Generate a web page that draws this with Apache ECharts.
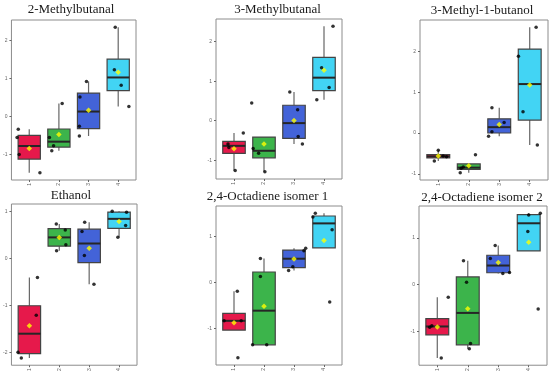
<!DOCTYPE html>
<html><head><meta charset="utf-8">
<script src="https://cdn.jsdelivr.net/npm/echarts@6/dist/echarts.min.js"></script>
<style>html,body{margin:0;padding:0;background:#fff}#c{width:550px;height:374px}</style>
</head><body><div id="c"></div>
<script>
// ---------- data ----------
const groups = ['1', '2', '3', '4'];
const groupColors = ['#e6194B', '#3cb44b', '#4363d8', '#42d4f4'];
const titles = ['2-Methylbutanal', '3-Methylbutanal', '3-Methyl-1-butanol', 'Ethanol', '2,4-Octadiene isomer 1', '2,4-Octadiene isomer 2'];

const p1Values = [[-0.34, -0.56, -1.01, -1.49], [0.34, -0.56, -0.78, -0.91], [0.92, 0.51, -0.26, -0.52], [2.35, 1.23, 0.82, 0.26]];
const p1Jitter = [[-0.37, -0.41, -0.34, 0.36], [0.11, -0.32, -0.18, -0.24], [-0.07, -0.29, -0.31, -0.31], [-0.10, -0.13, 0.10, 0.36]];
const p2Values = [[-0.59, -0.68, -0.31, -1.26], [0.45, -0.70, -0.82, -1.29], [0.73, 0.28, -0.40, -0.59], [2.39, 1.34, 0.84, 0.53]];
const p2Jitter = [[-0.20, -0.17, 0.31, 0.04], [-0.41, -0.36, -0.18, 0.03], [-0.14, 0.12, 0.14, 0.28], [0.30, -0.08, 0.17, -0.24]];
const p3Values = [[-0.42, -0.68, -0.56, -0.58], [-0.97, -0.86, -0.83, -0.53], [0.62, 0.26, 0.03, -0.08], [2.59, 1.88, 0.52, -0.29]];
const p3Jitter = [[0.00, -0.13, 0.16, 0.27], [-0.28, -0.25, -0.18, 0.22], [-0.24, 0.16, -0.24, -0.35], [0.21, -0.37, -0.22, 0.25]];
const p4Values = [[-0.41, -1.21, -2.00, -2.12], [0.73, 0.60, 0.29, 0.16], [0.77, 0.57, 0.06, -0.55], [1.00, 0.98, 0.70, 0.45]];
const p4Jitter = [[0.27, 0.23, -0.38, -0.27], [-0.10, 0.20, 0.22, -0.09], [-0.15, -0.24, -0.16, 0.16], [-0.23, 0.25, 0.22, -0.04]];
const p5Values = [[-0.19, -0.83, -0.83, -1.63], [0.52, 0.13, -1.35, -1.35], [0.74, 0.69, 0.34, 0.26], [1.50, 1.42, 1.14, -0.42]];
const p5Jitter = [[0.11, -0.33, 0.24, 0.13], [-0.12, -0.12, -0.38, 0.09], [0.39, 0.33, -0.04, -0.18], [-0.29, -0.37, 0.27, 0.19]];
const p6Values = [[-0.27, -0.88, -0.91, -1.57], [0.51, 0.05, -1.26, -1.37], [0.84, 0.56, 0.24, 0.26], [1.49, 1.53, 1.14, -0.52]];
const p6Jitter = [[0.36, -0.18, -0.25, 0.13], [-0.14, -0.04, 0.09, 0.05], [-0.10, -0.26, 0.15, 0.37], [0.00, 0.38, -0.03, 0.31]];

const yTicksA = [-1, 0, 1, 2];
const yTicksB = [-2, -1, 0, 1];
const yTicksC = [-1, 0, 1];

// ---------- layout ----------
const panels = [
  { values: p1Values, jitter: p1Jitter, ticks: yTicksA, grid: { left: 9, top: 20, width: 127, height: 160 }, tpos: [71, 10] },
  { values: p2Values, jitter: p2Jitter, ticks: yTicksA, grid: { left: 216, top: 19, width: 126, height: 160 }, tpos: [277.5, 10] },
  { values: p3Values, jitter: p3Jitter, ticks: yTicksA, grid: { left: 420, top: 20, width: 128, height: 160 }, tpos: [482, 10.5] },
  { values: p4Values, jitter: p4Jitter, ticks: yTicksB, grid: { left: 8, top: 204, width: 129, height: 162 }, tpos: [71, 196] },
  { values: p5Values, jitter: p5Jitter, ticks: yTicksC, grid: { left: 216, top: 206, width: 126, height: 159 }, tpos: [267.5, 197] },
  { values: p6Values, jitter: p6Jitter, ticks: yTicksC, grid: { left: 419, top: 206, width: 128, height: 160 }, tpos: [482, 198] }
];

function quantile(sorted, p) {
  const h = (sorted.length - 1) * p, lo = Math.floor(h), hi = Math.ceil(h);
  return sorted[lo] + (h - lo) * (sorted[hi] - sorted[lo]);
}
function boxStats(vals) {
  const s = vals.slice().sort((a, b) => a - b);
  const q1 = quantile(s, 0.25), md = quantile(s, 0.5), q3 = quantile(s, 0.75);
  const iqr = q3 - q1;
  const inside = s.filter(v => v >= q1 - 1.5 * iqr && v <= q3 + 1.5 * iqr);
  const wl = Math.min(q1, ...inside), wh = Math.max(q3, ...inside);
  return [q1, md, q3, wl, wh];
}

const option = { animation: false, grid: [], xAxis: [], yAxis: [], series: [], graphic: [] };
const axisColor = '#666';

panels.forEach((p, i) => {
  option.grid.push(Object.assign({ show: true, borderColor: '#8c8c8c', borderWidth: 1, backgroundColor: '#fff' }, p.grid));
  const all = p.values.flat();
  const lo = Math.min(...all), hi = Math.max(...all), pad = (hi - lo) * 0.05;
  option.xAxis.push({
    type: 'value', gridIndex: i, min: 0.4, max: 4.6, position: 'bottom',
    splitLine: { show: false }, axisLine: { show: false, onZero: false },
    axisTick: { show: true, length: 2, lineStyle: { color: axisColor }, customValues: [1, 2, 3, 4] },
    axisLabel: { customValues: [1, 2, 3, 4], formatter: v => groups[Math.round(v) - 1], rotate: 90, fontSize: 5, color: axisColor, margin: 3, fontFamily: 'Liberation Sans' }
  });
  option.yAxis.push({
    type: 'value', gridIndex: i, min: lo - pad, max: hi + pad, position: 'left',
    splitLine: { show: false }, axisLine: { show: false, onZero: false },
    axisTick: { show: true, length: 2, lineStyle: { color: axisColor }, customValues: p.ticks },
    axisLabel: { customValues: p.ticks, formatter: v => String(Math.round(v)), fontSize: 5, color: axisColor, margin: 4, fontFamily: 'Liberation Sans' }
  });
  const boxData = p.values.map((vals, g) => [g + 1].concat(boxStats(vals)));
  option.series.push({
    type: 'custom', xAxisIndex: i, yAxisIndex: i, z: 2,
    encode: { x: 0, y: [1, 2, 3, 4, 5] },
    data: boxData,
    renderItem: (params, api) => {
      const gx = api.value(0);
      const q1 = api.value(1), md = api.value(2), q3 = api.value(3), wl = api.value(4), wh = api.value(5);
      const tl = api.coord([gx - 0.375, q3]), br = api.coord([gx + 0.375, q1]);
      const m = api.coord([gx, md]);
      const cx = api.coord([gx, wl])[0];
      const yl = api.coord([gx, wl])[1], yh = api.coord([gx, wh])[1];
      return {
        type: 'group', children: [
          { type: 'line', shape: { x1: cx, y1: tl[1], x2: cx, y2: yh }, style: { stroke: '#666', lineWidth: 1.2 } },
          { type: 'line', shape: { x1: cx, y1: br[1], x2: cx, y2: yl }, style: { stroke: '#666', lineWidth: 1.2 } },
          { type: 'rect', shape: { x: tl[0], y: tl[1], width: br[0] - tl[0], height: br[1] - tl[1] }, style: { fill: groupColors[gx - 1], stroke: '#444', lineWidth: 1.2 } },
          { type: 'line', shape: { x1: tl[0], y1: m[1], x2: br[0], y2: m[1] }, style: { stroke: '#262626', lineWidth: 2 } }
        ]
      };
    }
  });
  const pts = [];
  p.values.forEach((vals, g) => vals.forEach((v, k) => pts.push([g + 1 + p.jitter[g][k], v])));
  option.series.push({
    type: 'scatter', xAxisIndex: i, yAxisIndex: i, z: 3, symbol: 'circle', symbolSize: 3.5,
    itemStyle: { color: '#000' }, data: pts
  });
  const means = p.values.map((vals, g) => [g + 1, vals.reduce((a, b) => a + b, 0) / vals.length]);
  option.series.push({
    type: 'scatter', xAxisIndex: i, yAxisIndex: i, z: 4, symbol: 'diamond', symbolSize: 5.5,
    itemStyle: { color: '#ffff00' }, data: means
  });
  option.graphic.push({
    type: 'text', x: p.tpos[0], y: p.tpos[1], z: 10,
    style: { text: titles[i], fill: '#1a1a1a', font: '13px "Liberation Serif"', align: 'center', verticalAlign: 'middle', textAlign: 'center', textVerticalAlign: 'middle' }
  });
});

const chart = echarts.init(document.getElementById('c'), null, { renderer: 'canvas' });
chart.setOption(option);
</script>
</body></html>
